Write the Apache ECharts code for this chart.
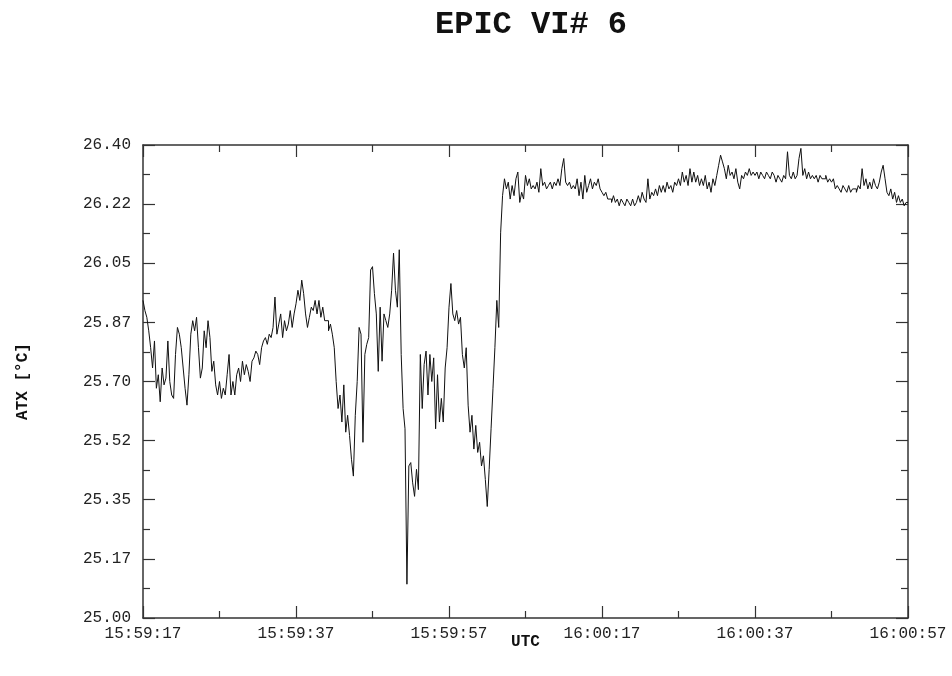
<!DOCTYPE html>
<html>
<head>
<meta charset="utf-8">
<script src="https://cdn.jsdelivr.net/npm/echarts@6/dist/echarts.min.js"></script>
<style>
  html, body { margin: 0; padding: 0; background: #fff; }
  #chart { width: 952px; height: 676px; }
</style>
</head>
<body>
<div id="chart"></div>
<script>
// Seconds after 15:59:17, sampled every 0.25 s
const sampleStep = 0.25;
const xTickLabels = ['15:59:17', '15:59:37', '15:59:57', '16:00:17', '16:00:37', '16:00:57'];
const yTickLabels = ['25.00', '25.17', '25.35', '25.52', '25.70', '25.87', '26.05', '26.22', '26.40'];
// ATX [°C]
const atx = [
  25.94, 25.91, 25.89, 25.85,
  25.80, 25.74, 25.82, 25.68,
  25.72, 25.64, 25.74, 25.69,
  25.71, 25.82, 25.70, 25.66,
  25.65, 25.78, 25.86, 25.84,
  25.80, 25.74, 25.68, 25.63,
  25.72, 25.84, 25.88, 25.85,
  25.89, 25.80, 25.71, 25.74,
  25.85, 25.80, 25.88, 25.83,
  25.73, 25.76, 25.69, 25.66,
  25.70, 25.65, 25.68, 25.66,
  25.72, 25.78, 25.66, 25.70,
  25.66, 25.72, 25.74, 25.70,
  25.76, 25.72, 25.75, 25.73,
  25.70, 25.76, 25.77, 25.79,
  25.78, 25.75, 25.80, 25.82,
  25.83, 25.81, 25.84, 25.83,
  25.86, 25.95, 25.84, 25.87,
  25.90, 25.83, 25.88, 25.85,
  25.87, 25.91, 25.86, 25.90,
  25.93, 25.97, 25.94, 26.00,
  25.96, 25.90, 25.86, 25.89,
  25.92, 25.91, 25.94, 25.90,
  25.94, 25.89, 25.92, 25.88,
  25.88, 25.85, 25.87, 25.84,
  25.80, 25.70, 25.62, 25.66,
  25.58, 25.69, 25.55, 25.60,
  25.54, 25.47, 25.42, 25.60,
  25.70, 25.86, 25.84, 25.52,
  25.78, 25.81, 25.83, 26.03,
  26.04, 25.96, 25.90, 25.73,
  25.92, 25.76, 25.90, 25.88,
  25.86, 25.90, 25.97, 26.08,
  25.97, 25.92, 26.09, 25.78,
  25.62, 25.56, 25.10, 25.45,
  25.46, 25.40, 25.36, 25.44,
  25.38, 25.78, 25.62, 25.75,
  25.79, 25.66, 25.78, 25.70,
  25.77, 25.56, 25.72, 25.58,
  25.65, 25.58, 25.74, 25.80,
  25.92, 25.99, 25.90, 25.88,
  25.91, 25.87, 25.89, 25.78,
  25.74, 25.80, 25.63, 25.55,
  25.60, 25.50, 25.57, 25.49,
  25.52, 25.45, 25.48, 25.41,
  25.33, 25.44, 25.56, 25.68,
  25.80, 25.94, 25.86, 26.14,
  26.25, 26.30, 26.27, 26.29,
  26.24, 26.28, 26.25, 26.30,
  26.32, 26.23, 26.26, 26.24,
  26.31, 26.28, 26.30, 26.27,
  26.28, 26.27, 26.29, 26.26,
  26.33, 26.28, 26.29, 26.27,
  26.28, 26.29, 26.27, 26.29,
  26.28, 26.30, 26.28, 26.33,
  26.36, 26.29, 26.28, 26.29,
  26.27, 26.28, 26.27, 26.30,
  26.25, 26.29, 26.24, 26.31,
  26.26, 26.28, 26.30, 26.27,
  26.29, 26.28, 26.30, 26.27,
  26.26, 26.25, 26.26, 26.24,
  26.24, 26.23, 26.25, 26.23,
  26.24, 26.22, 26.24, 26.23,
  26.22, 26.24, 26.23, 26.22,
  26.24, 26.22, 26.23, 26.25,
  26.23, 26.26, 26.24, 26.23,
  26.30, 26.24, 26.26, 26.25,
  26.27, 26.25, 26.28, 26.26,
  26.28, 26.26, 26.29, 26.27,
  26.28, 26.26, 26.29, 26.28,
  26.30, 26.28, 26.32, 26.29,
  26.31, 26.28, 26.33, 26.29,
  26.32, 26.29, 26.31, 26.28,
  26.30, 26.28, 26.31, 26.27,
  26.29, 26.26, 26.30, 26.28,
  26.31, 26.34, 26.37, 26.35,
  26.33, 26.30, 26.34, 26.31,
  26.32, 26.30, 26.33, 26.29,
  26.27, 26.31, 26.30, 26.32,
  26.31, 26.33, 26.31, 26.32,
  26.31, 26.32, 26.30, 26.32,
  26.31, 26.30, 26.32, 26.31,
  26.30, 26.32, 26.31, 26.29,
  26.31, 26.30, 26.29, 26.31,
  26.30, 26.38, 26.31, 26.30,
  26.32, 26.30, 26.31, 26.36,
  26.39, 26.31, 26.33, 26.30,
  26.32, 26.30, 26.31, 26.30,
  26.31, 26.29, 26.31, 26.30,
  26.30, 26.31, 26.29, 26.30,
  26.29, 26.30, 26.27, 26.28,
  26.27, 26.26, 26.28, 26.27,
  26.26, 26.28, 26.26, 26.27,
  26.27, 26.26, 26.28, 26.27,
  26.33, 26.28, 26.30, 26.27,
  26.29, 26.27, 26.30, 26.28,
  26.27, 26.29, 26.32, 26.34,
  26.30, 26.26, 26.25, 26.27,
  26.24, 26.26, 26.23, 26.25,
  26.23, 26.24, 26.22, 26.23,
  26.23
];

const seriesData = atx.map((v, i) => [i * sampleStep, v]);

const FONT = '"Liberation Mono", "DejaVu Sans Mono", monospace';
const axisColor = '#333';

const xBase = {
  type: 'value', min: 0, max: 100, interval: 20,
  axisLine: { show: true, onZero: false, lineStyle: { color: axisColor, width: 1.5 } },
  axisTick: { show: true, inside: true, length: 12, lineStyle: { color: axisColor, width: 1.2 } },
  minorTick: { show: true, splitNumber: 2, length: 7, lineStyle: { color: axisColor, width: 1.2 } },
  splitLine: { show: false }
};
const yBase = {
  type: 'value', min: 25.0, max: 26.4, interval: 0.175,
  axisLine: { show: true, onZero: false, lineStyle: { color: axisColor, width: 1.5 } },
  axisTick: { show: true, inside: true, length: 12, lineStyle: { color: axisColor, width: 1.2 } },
  minorTick: { show: true, splitNumber: 2, length: 7, lineStyle: { color: axisColor, width: 1.2 } },
  splitLine: { show: false }
};

const chart = echarts.init(document.getElementById('chart'), null, { renderer: 'canvas' });
chart.setOption({
  backgroundColor: '#fff',
  animation: false,
  title: {
    text: 'EPIC VI# 6',
    left: 430, top: 4,
    textStyle: { fontFamily: FONT, fontSize: 32, fontWeight: 'bold', color: '#111' }
  },
  grid: { left: 143, right: 44, top: 145, bottom: 58 },
  xAxis: [
    Object.assign({}, xBase, {
      position: 'bottom',
      name: 'UTC', nameLocation: 'middle', nameGap: 16, nameMoveOverlap: false,
      nameTextStyle: { fontFamily: FONT, fontSize: 16, fontWeight: 'bold', color: '#111' },
      axisLabel: {
        show: true, margin: 8, fontFamily: FONT, fontSize: 16, color: '#222',
        formatter: v => xTickLabels[Math.round(v / 20)] || ''
      }
    }),
    Object.assign({}, xBase, { position: 'top', axisLabel: { show: false } })
  ],
  yAxis: [
    Object.assign({}, yBase, {
      position: 'left',
      name: 'ATX [°C]', nameLocation: 'middle', nameGap: 112, nameRotate: 90,
      nameTextStyle: { fontFamily: FONT, fontSize: 16, fontWeight: 'bold', color: '#111' },
      axisLabel: {
        show: true, margin: 12, fontFamily: FONT, fontSize: 16, color: '#222',
        formatter: v => yTickLabels[Math.round((v - 25) / 0.175)] || ''
      }
    }),
    Object.assign({}, yBase, { position: 'right', axisLabel: { show: false } })
  ],
  series: [{
    type: 'line',
    xAxisIndex: 0, yAxisIndex: 0,
    data: seriesData,
    showSymbol: false,
    symbol: 'none',
    step: 'end',
    sampling: null,
    lineStyle: { color: '#111', width: 1 }
  }]
});
</script>
</body>
</html>
